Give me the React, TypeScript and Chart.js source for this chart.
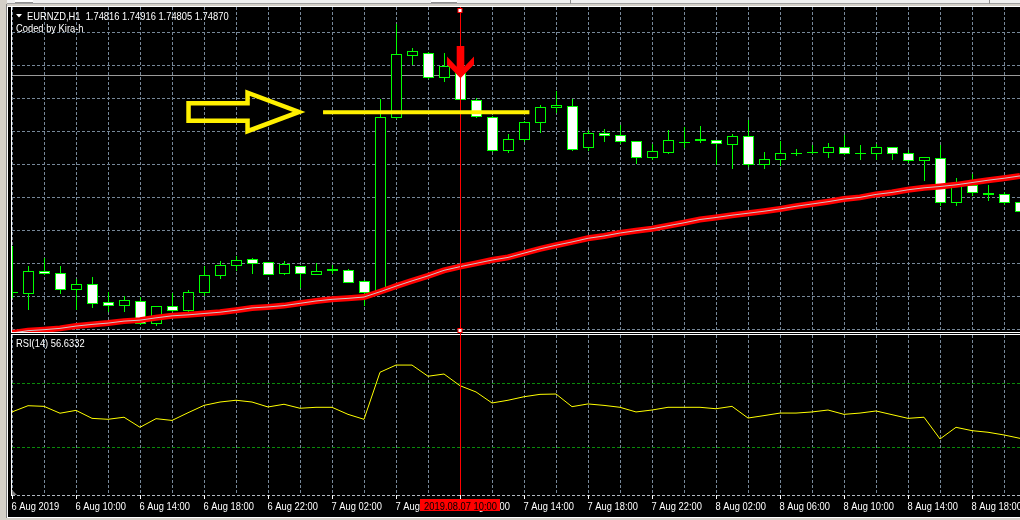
import React, { useEffect, useRef } from "react";
import { Chart, registerables } from "chart.js";

Chart.register(...registerables);

// ---------- DATA (EURNZD H1, bar 0 = 6 Aug 2019 06:00) ----------
const opens = [
  1.74212, 1.74211, 1.74277, 1.74270, 1.74221, 1.74236, 1.74182, 1.74173, 1.74185, 1.74118,
  1.74170, 1.74158, 1.74212, 1.74264, 1.74294, 1.74312, 1.74303, 1.74270, 1.74291, 1.74267,
  1.74282, 1.74279, 1.74248, 1.74219, 1.74745, 1.74933, 1.74939, 1.74864, 1.74876, 1.74794,
  1.74745, 1.74645, 1.74676, 1.74727, 1.74773, 1.74776, 1.74652, 1.74694, 1.74688, 1.74670,
  1.74621, 1.74639, 1.74668, 1.74675, 1.74673, 1.74661, 1.74685, 1.74600, 1.74615, 1.74636,
  1.74638, 1.74639, 1.74652, 1.74635, 1.74636, 1.74652, 1.74633, 1.74612, 1.74618, 1.74485,
  1.74539, 1.74514, 1.74509, 1.74485,
];
const highs = [
  1.74352, 1.74292, 1.74316, 1.74292, 1.74252, 1.74258, 1.74212, 1.74200, 1.74197, 1.74171,
  1.74209, 1.74218, 1.74292, 1.74307, 1.74322, 1.74316, 1.74305, 1.74306, 1.74292, 1.74300,
  1.74294, 1.74283, 1.74249, 1.74798, 1.75025, 1.74952, 1.74940, 1.74939, 1.74886, 1.74800,
  1.74746, 1.74691, 1.74732, 1.74779, 1.74821, 1.74798, 1.74703, 1.74706, 1.74718, 1.74671,
  1.74661, 1.74703, 1.74712, 1.74716, 1.74673, 1.74691, 1.74736, 1.74639, 1.74670, 1.74648,
  1.74658, 1.74664, 1.74688, 1.74658, 1.74661, 1.74653, 1.74645, 1.74621, 1.74658, 1.74558,
  1.74570, 1.74537, 1.74515, 1.74492,
];
const lows = [
  1.74198, 1.74162, 1.74267, 1.74211, 1.74162, 1.74167, 1.74156, 1.74156, 1.74116, 1.74114,
  1.74155, 1.74150, 1.74203, 1.74255, 1.74281, 1.74270, 1.74267, 1.74267, 1.74227, 1.74267,
  1.74270, 1.74244, 1.74175, 1.74216, 1.74742, 1.74905, 1.74863, 1.74852, 1.74796, 1.74745,
  1.74641, 1.74639, 1.74670, 1.74697, 1.74758, 1.74645, 1.74645, 1.74670, 1.74664, 1.74605,
  1.74615, 1.74636, 1.74652, 1.74668, 1.74600, 1.74590, 1.74596, 1.74590, 1.74597, 1.74627,
  1.74633, 1.74623, 1.74632, 1.74617, 1.74615, 1.74615, 1.74606, 1.74552, 1.74477, 1.74477,
  1.74507, 1.74493, 1.74480, 1.74456,
];
const closes = [
  1.74212, 1.74277, 1.74270, 1.74221, 1.74236, 1.74179, 1.74173, 1.74188, 1.74118, 1.74170,
  1.74158, 1.74212, 1.74264, 1.74294, 1.74309, 1.74300, 1.74267, 1.74297, 1.74270, 1.74276,
  1.74281, 1.74244, 1.74214, 1.74745, 1.74934, 1.74945, 1.74864, 1.74897, 1.74797, 1.74746,
  1.74643, 1.74676, 1.74727, 1.74773, 1.74779, 1.74648, 1.74694, 1.74688, 1.74670, 1.74621,
  1.74642, 1.74673, 1.74669, 1.74676, 1.74664, 1.74685, 1.74600, 1.74615, 1.74636, 1.74636,
  1.74637, 1.74652, 1.74633, 1.74635, 1.74652, 1.74633, 1.74612, 1.74621, 1.74485, 1.74542,
  1.74517, 1.74511, 1.74485, 1.74458,
];
const maValues = [
  1.74089, 1.74096, 1.74099, 1.74103, 1.74110, 1.74115, 1.74119, 1.74125, 1.74128, 1.74135,
  1.74141, 1.74144, 1.74148, 1.74152, 1.74158, 1.74165, 1.74168, 1.74172, 1.74179, 1.74186,
  1.74191, 1.74194, 1.74198, 1.74214, 1.74231, 1.74247, 1.74262, 1.74279, 1.74290, 1.74300,
  1.74310, 1.74318, 1.74331, 1.74344, 1.74355, 1.74365, 1.74376, 1.74383, 1.74392, 1.74399,
  1.74405, 1.74414, 1.74423, 1.74433, 1.74439, 1.74446, 1.74452, 1.74458, 1.74465, 1.74473,
  1.74480, 1.74487, 1.74495, 1.74500, 1.74509, 1.74515, 1.74523, 1.74529, 1.74533, 1.74538,
  1.74545, 1.74552, 1.74558, 1.74565,
];
const rsiValues = [
  52.1, 56.0, 55.6, 51.3, 53.1, 48.1, 47.5, 48.8, 42.5, 47.9,
  46.8, 51.6, 56.2, 58.3, 59.4, 58.3, 55.2, 56.9, 54.4, 55.0,
  55.0, 50.6, 47.5, 76.9, 81.4, 81.4, 74.4, 75.8, 68.5, 64.6,
  57.7, 59.4, 61.6, 63.1, 63.3, 55.4, 57.1, 56.2, 55.0, 52.1,
  53.3, 55.0, 55.0, 55.0, 54.1, 55.6, 48.3, 49.8, 51.4, 51.4,
  52.1, 53.3, 50.6, 51.4, 52.7, 50.4, 48.1, 48.8, 35.2, 42.5,
  40.4, 39.4, 37.7, 35.6,
];
const tickBars = [0, 4, 8, 12, 16, 20, 24, 28, 32, 36, 40, 44, 48, 52, 56, 60];
const tickLabels = [
  "6 Aug 2019", "6 Aug 10:00", "6 Aug 14:00", "6 Aug 18:00", "6 Aug 22:00",
  "7 Aug 02:00", "7 Aug 06:00", "7 Aug 10:00", "7 Aug 14:00", "7 Aug 18:00",
  "7 Aug 22:00", "8 Aug 02:00", "8 Aug 06:00", "8 Aug 10:00", "8 Aug 14:00", "8 Aug 18:00",
];
const priceGridLevels = [1.75, 1.749, 1.748, 1.747, 1.746, 1.745, 1.744, 1.743, 1.742, 1.741];
const rsiLevels = [70, 30];
const bidPrice = 1.7487;
const cursorBar = 28;
const cursorLabel = "2019.08.07 10:00";
const titleText = "EURNZD,H1  1.74816 1.74916 1.74805 1.74870";
const subtitleText = "Coded by Kira-h";
const rsiTitle = "RSI(14) 56.6332";
const yellowLineFrom = 19.44;
const yellowLineTo = 32.34;
const yellowLinePrice = 1.74758;
const yellowArrowTipBar = 17.94;
const yellowArrowTipPrice = 1.74759;
const redArrowTipBar = 28;
const redArrowTipPrice = 1.74861;

// ---------- LAYOUT / STYLE ----------
const W = 1020;
const H = 520;
const PLOT_LEFT = 12;
const PLOT_TOP = 7;
const PLOT_BOTTOM = 495;
const MAIN_BORDER = 332;
const RSI_BORDER = 334;
const PRICE_MIN = 1.73598;
const PRICE_MAX = 1.75077;
const RSI_MIN = 0.19;
const RSI_MAX = 305.19;
const FONT = "'Liberation Sans', Arial, sans-serif";
const TEXT_FONT = `10.5px ${FONT}`;
const TEXT_SX = 0.89;
const LIME = "#00ff00";
const GRID = "#778899";

const crisp = (v: number) => Math.floor(v) + 0.5;

function drawText(ctx: CanvasRenderingContext2D, text: string, x: number, y: number, align: "left" | "center" = "left") {
  ctx.save();
  ctx.font = TEXT_FONT;
  ctx.textBaseline = "alphabetic";
  ctx.textAlign = align;
  ctx.translate(x, y);
  ctx.scale(TEXT_SX, 1);
  ctx.fillText(text, 0, 0);
  ctx.restore();
}

const mt4Plugin = {
  id: "mt4",
  beforeDraw(chart: any) {
    const ctx = chart.ctx as CanvasRenderingContext2D;
    ctx.save();
    ctx.fillStyle = "#f0f0f0";
    ctx.fillRect(0, 0, W, H);
    ctx.fillStyle = "#a0a0a0";
    ctx.fillRect(0, 3, W, 1);
    ctx.fillStyle = "#d4d0c8";
    ctx.fillRect(0, 4, W, 2);
    ctx.fillRect(0, 0, 7, H);
    ctx.fillStyle = "#808080";
    ctx.fillRect(6, 4, 1, H - 4);
    // toolbar remnants
    ctx.fillStyle = "#ffffff";
    ctx.fillRect(15, 0, 18, 3);
    ctx.fillRect(431, 0, 26, 3);
    ctx.fillStyle = "#909090";
    ctx.fillRect(15, 2, 18, 1);
    ctx.fillRect(431, 2, 26, 1);
    ctx.fillRect(570, 0, 1, 4);
    ctx.fillRect(989, 0, 1, 4);
    // chart window
    ctx.fillStyle = "#000000";
    ctx.fillRect(7, 6, W - 7, 512);
    ctx.fillStyle = "#ffffff";
    ctx.fillRect(7, 6, W - 7, 1);
    ctx.fillRect(7, 6, 1, 512);
    ctx.fillRect(7, 517, W - 7, 1);
    ctx.fillStyle = "#d4d0c8";
    ctx.fillRect(0, 518, W, 2);
    ctx.restore();
  },
  beforeDatasetsDraw(chart: any) {
    const ctx = chart.ctx as CanvasRenderingContext2D;
    const xs = chart.scales.x;
    const ys = chart.scales.y;
    const yr = chart.scales.yr;
    ctx.save();
    ctx.lineWidth = 1;
    ctx.setLineDash([3, 2]);
    ctx.strokeStyle = GRID;
    // main panel grid
    ctx.save();
    ctx.beginPath();
    ctx.rect(PLOT_LEFT, PLOT_TOP, W - PLOT_LEFT, MAIN_BORDER - PLOT_TOP);
    ctx.clip();
    ctx.beginPath();
    for (const p of priceGridLevels) {
      const y = crisp(ys.getPixelForValue(p));
      ctx.moveTo(PLOT_LEFT, y);
      ctx.lineTo(W, y);
    }
    for (let b = 0; b <= 63; b += 2) {
      const x = crisp(xs.getPixelForValue(b));
      ctx.moveTo(x, PLOT_TOP);
      ctx.lineTo(x, MAIN_BORDER);
    }
    ctx.stroke();
    // bid line
    ctx.setLineDash([]);
    ctx.strokeStyle = "#9a9a9a";
    ctx.beginPath();
    const by = crisp(ys.getPixelForValue(bidPrice));
    ctx.moveTo(PLOT_LEFT, by);
    ctx.lineTo(W, by);
    ctx.stroke();
    // candles
    for (let i = 0; i < opens.length; i++) {
      const cx = Math.floor(xs.getPixelForValue(i));
      const yH = Math.round(ys.getPixelForValue(highs[i]));
      const yL = Math.round(ys.getPixelForValue(lows[i]));
      const yO = ys.getPixelForValue(opens[i]);
      const yC = ys.getPixelForValue(closes[i]);
      const top = Math.round(Math.min(yO, yC));
      const bot = Math.round(Math.max(yO, yC));
      ctx.fillStyle = LIME;
      ctx.fillRect(cx, yH, 1, yL - yH + 1);
      ctx.fillRect(cx - 5, top, 11, bot - top + 1);
      if (bot - top >= 2) {
        ctx.fillStyle = closes[i] > opens[i] ? "#000000" : "#ffffff";
        ctx.fillRect(cx - 4, top + 1, 9, bot - top - 1);
      }
    }
    ctx.restore();
    // RSI panel grid
    ctx.save();
    ctx.beginPath();
    ctx.rect(PLOT_LEFT, RSI_BORDER + 1, W - PLOT_LEFT, PLOT_BOTTOM - RSI_BORDER);
    ctx.clip();
    ctx.setLineDash([3, 2]);
    ctx.strokeStyle = GRID;
    ctx.beginPath();
    for (let b = 0; b <= 63; b += 2) {
      const x = crisp(xs.getPixelForValue(b));
      ctx.moveTo(x, RSI_BORDER + 1);
      ctx.lineTo(x, PLOT_BOTTOM);
    }
    ctx.stroke();
    ctx.strokeStyle = "#0b8a0b";
    ctx.beginPath();
    for (const lv of rsiLevels) {
      const y = crisp(yr.getPixelForValue(lv));
      ctx.moveTo(PLOT_LEFT, y);
      ctx.lineTo(W, y);
    }
    ctx.stroke();
    ctx.restore();
    ctx.restore();
  },
  afterDatasetsDraw(chart: any) {
    const ctx = chart.ctx as CanvasRenderingContext2D;
    const xs = chart.scales.x;
    const ys = chart.scales.y;
    ctx.save();
    // panel borders
    ctx.fillStyle = "#ffffff";
    ctx.fillRect(11, 6, 1, MAIN_BORDER - 6);
    ctx.fillRect(11, MAIN_BORDER, W - 11, 1);
    ctx.fillRect(11, RSI_BORDER, W - 11, 1);
    ctx.fillRect(11, RSI_BORDER, 1, PLOT_BOTTOM - RSI_BORDER + 1);
    // bottom dashed axis line
    ctx.strokeStyle = "#b0b8c0";
    ctx.lineWidth = 1;
    ctx.setLineDash([3, 2]);
    ctx.beginPath();
    ctx.moveTo(PLOT_LEFT, PLOT_BOTTOM + 0.5);
    ctx.lineTo(W, PLOT_BOTTOM + 0.5);
    ctx.stroke();
    ctx.setLineDash([]);
    // small corner triangle
    ctx.fillStyle = "#808080";
    ctx.beginPath();
    ctx.moveTo(12, 490);
    ctx.lineTo(12, 495);
    ctx.lineTo(17, 495);
    ctx.closePath();
    ctx.fill();

    // crosshair
    const cx = crisp(xs.getPixelForValue(cursorBar));
    ctx.strokeStyle = "#ff0000";
    ctx.beginPath();
    ctx.moveTo(cx, PLOT_TOP);
    ctx.lineTo(cx, PLOT_BOTTOM + 1);
    ctx.stroke();
    ctx.fillStyle = "#ffffff";
    ctx.fillRect(cx - 2.5, 8.5, 4, 4);
    ctx.strokeRect(cx - 2.5, 8.5, 4, 4);
    ctx.fillRect(cx - 2.5, 328.5, 4, 4);
    ctx.strokeRect(cx - 2.5, 328.5, 4, 4);

    // yellow horizontal line
    ctx.strokeStyle = "#fff000";
    ctx.lineWidth = 4;
    ctx.beginPath();
    const yl = ys.getPixelForValue(yellowLinePrice);
    ctx.moveTo(xs.getPixelForValue(yellowLineFrom), yl);
    ctx.lineTo(xs.getPixelForValue(yellowLineTo), yl);
    ctx.stroke();

    // yellow hollow arrow
    const tx = xs.getPixelForValue(yellowArrowTipBar);
    const ty = ys.getPixelForValue(yellowArrowTipPrice);
    const pts = [
      [-110.5, -8.7], [-51.5, -8.7], [-51.5, -19.2], [0, 0],
      [-51.5, 19.3], [-51.5, 8.8], [-110.5, 8.8],
    ];
    ctx.lineWidth = 4.5;
    ctx.lineJoin = "miter";
    ctx.beginPath();
    pts.forEach(([dx, dy], k) => (k ? ctx.lineTo(tx + dx, ty + dy) : ctx.moveTo(tx + dx, ty + dy)));
    ctx.closePath();
    ctx.stroke();

    // red down arrow
    const rx = xs.getPixelForValue(redArrowTipBar) + 0.5;
    const ry = ys.getPixelForValue(redArrowTipPrice);
    const rp = [
      [-3.8, -32.3], [3.8, -32.3], [3.8, -11.6], [13.5, -21.8], [13.5, -13.8],
      [0, 0], [-13.5, -13.8], [-13.5, -21.8], [-3.8, -11.6],
    ];
    ctx.fillStyle = "#ff0000";
    ctx.beginPath();
    rp.forEach(([dx, dy], k) => (k ? ctx.lineTo(rx + dx, ry + dy) : ctx.moveTo(rx + dx, ry + dy)));
    ctx.closePath();
    ctx.fill();

    // texts
    ctx.fillStyle = "#ffffff";
    ctx.beginPath();
    ctx.moveTo(16, 14);
    ctx.lineTo(22, 14);
    ctx.lineTo(19, 17.5);
    ctx.closePath();
    ctx.fill();
    drawText(ctx, titleText, 27, 19.5);
    drawText(ctx, subtitleText, 16, 32);
    drawText(ctx, rsiTitle, 16, 347);

    // time axis
    tickBars.forEach((b, k) => {
      const x = Math.floor(xs.getPixelForValue(b));
      ctx.fillStyle = "#ffffff";
      ctx.fillRect(x, PLOT_BOTTOM, 1, 4);
      drawText(ctx, tickLabels[k], x - 0.5, 509.5);
    });
    // cursor time label
    const cxi = Math.floor(xs.getPixelForValue(cursorBar));
    ctx.fillStyle = "#ff0000";
    ctx.fillRect(cxi - 40, 499, 80, 12);
    ctx.fillStyle = "#000000";
    drawText(ctx, cursorLabel, cxi + 0.5, 509.5, "center");
    ctx.restore();
  },
};

export default function App() {
  const canvasRef = useRef<HTMLCanvasElement | null>(null);

  useEffect(() => {
    const canvas = canvasRef.current;
    if (!canvas) return;
    const maPoints = maValues.map((v, i) => ({ x: i, y: v }));
    const rsiPoints = rsiValues.map((v, i) => ({ x: i, y: v }));
    const mainClip = { left: 0, top: 0, right: 0, bottom: -(PLOT_BOTTOM - MAIN_BORDER) };
    const chart = new Chart(canvas, {
      type: "line",
      data: {
        datasets: [
          {
            label: "MA center",
            data: maPoints,
            yAxisID: "y",
            borderColor: "#c8c8c8",
            borderWidth: 1,
            pointRadius: 0,
            tension: 0,
            clip: mainClip,
          } as any,
          {
            label: "MA",
            data: maPoints,
            yAxisID: "y",
            borderColor: "#ff0000",
            borderWidth: 6,
            pointRadius: 0,
            tension: 0,
            clip: mainClip,
          } as any,
          {
            label: "RSI(14)",
            data: rsiPoints,
            yAxisID: "yr",
            borderColor: "#ffff00",
            borderWidth: 1,
            pointRadius: 0,
            tension: 0,
          } as any,
        ],
      },
      options: {
        responsive: false,
        maintainAspectRatio: false,
        devicePixelRatio: 1,
        animation: false,
        events: [],
        layout: {
          autoPadding: false,
          padding: { left: PLOT_LEFT, top: PLOT_TOP, right: 0, bottom: H - PLOT_BOTTOM },
        },
        scales: {
          x: { type: "linear", min: 0, max: 63, display: false },
          y: { type: "linear", min: PRICE_MIN, max: PRICE_MAX, display: false },
          yr: { type: "linear", min: RSI_MIN, max: RSI_MAX, display: false },
        },
        plugins: {
          legend: { display: false },
          tooltip: { enabled: false },
          title: { display: false },
        },
      } as any,
      plugins: [mt4Plugin],
    });
    return () => chart.destroy();
  }, []);

  return (
    <div style={{ position: "fixed", left: 0, top: 0, width: W, height: H, background: "#000" }}>
      <canvas ref={canvasRef} width={W} height={H} style={{ display: "block", width: W, height: H }} />
    </div>
  );
}
